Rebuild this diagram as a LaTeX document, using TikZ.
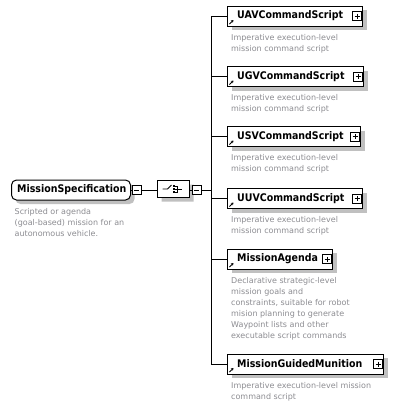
\documentclass[tikz,border=0pt]{standalone}
\usepackage{fontspec}
\setmainfont{DejaVu Sans}
\newfontfamily\namefont[FakeStretch=0.9]{DejaVu Sans}
\usetikzlibrary{positioning,shapes.misc,shadows,arrows.meta}
\definecolor{descgray}{RGB}{140,140,145}
\definecolor{shadowgray}{RGB}{192,192,192}

\begin{document}
\begin{tikzpicture}[x=1pt,y=-1pt,
  elem/.style={draw, fill=white, line width=1pt, anchor=west, minimum height=20pt, inner sep=0pt,
    general shadow={fill=shadowgray, shadow xshift=4pt, shadow yshift=-4pt}},
  ename/.style={font=\namefont\bfseries\fontsize{10.5}{12}\selectfont, inner sep=0pt, anchor=west},
  desc/.style={font=\fontsize{8}{11}\selectfont, text=descgray, align=left, inner sep=0pt, anchor=north west},
  pm/.style={draw, fill=white, line width=0.7pt, minimum size=9pt, inner sep=0pt},
  minusbox/.style={pm, path picture={\draw[line width=0.7pt]
    ([xshift=2pt]path picture bounding box.west) -- ([xshift=-2pt]path picture bounding box.east);}},
  plusbox/.style={pm, path picture={\draw[line width=0.7pt]
    ([xshift=2pt]path picture bounding box.west) -- ([xshift=-2pt]path picture bounding box.east)
    ([yshift=-2pt]path picture bounding box.north) -- ([yshift=2pt]path picture bounding box.south);}},
  refarrow/.style={line width=0.8pt, -{Stealth[length=2.5pt,width=3pt]}},
  link/.style={line width=1pt}]
\useasboundingbox (0,0) rectangle (402,408);

\coordinate (bustop) at (211,16);
\coordinate (busbottom) at (211,364);

\node [elem, rounded corners=5pt, minimum width=119pt] (root) at (11,190) {};
\node [ename, right=6pt of root.west] (rootname) {MissionSpecification};
\node [desc] (rootdesc) at ([shift={(3.5,8)}]root.south west) {Scripted or agenda\\(goal-based) mission for an\\autonomous vehicle.};
\node [minusbox] (rootminus) at (136.5,190) {};

\node [draw, fill=white, line width=1pt, chamfered rectangle, chamfered rectangle xsep=4pt, chamfered rectangle ysep=4pt,
  minimum width=32pt, minimum height=17pt, inner sep=0pt,
  general shadow={fill=shadowgray, shadow xshift=4pt, shadow yshift=-4pt}] (seq) at (173.5,189) {};
\draw [line width=0.8pt] ([shift={(-11,0)}]seq.center) -- ++(5,0) -- ++(4,-4);
\fill ([shift={(-1,-4)}]seq.center) rectangle ++(2,2);
\fill ([shift={(-1,-1)}]seq.center) rectangle ++(2,2);
\fill ([shift={(-1,2)}]seq.center) rectangle ++(2,2);
\draw [line width=0.8pt] ([shift={(1,-3)}]seq.center) -- ++(3,0) -- ++(0,6) -- ++(-3,0)
  ([shift={(1,0)}]seq.center) -- ++(7,0);
\node [minusbox] (seqminus) at (196.5,190) {};

\draw [link] (root) -- (rootminus);
\draw [link] (rootminus) -- (rootminus -| seq.west);
\draw [link] (seqminus -| seq.east) -- (seqminus);
\draw [link] (seqminus) -- (seqminus -| bustop);
\draw [link] (bustop) -- (busbottom);

\node [elem, minimum width=135pt] (uav) at (227,16) {};
\node [ename, right=10pt of uav.west] (uavname) {UAVCommandScript};
\node [plusbox, left=1pt of uav.east] (uavplus) {};
\draw [refarrow] ([shift={(2.5,-2.5)}]uav.south west) -- ++(4,-4);
\node [desc] (uavdesc) at ([shift={(4,7.5)}]uav.south west) {Imperative execution-level\\mission command script};

\node [elem, minimum width=136pt] (ugv) at (227,76.5) {};
\node [ename, right=10pt of ugv.west] (ugvname) {UGVCommandScript};
\node [plusbox, left=1pt of ugv.east] (ugvplus) {};
\draw [refarrow] ([shift={(2.5,-2.5)}]ugv.south west) -- ++(4,-4);
\node [desc] (ugvdesc) at ([shift={(4,7.5)}]ugv.south west) {Imperative execution-level\\mission command script};

\node [elem, minimum width=133pt] (usv) at (227,136.5) {};
\node [ename, right=10pt of usv.west] (usvname) {USVCommandScript};
\node [plusbox, left=1pt of usv.east] (usvplus) {};
\draw [refarrow] ([shift={(2.5,-2.5)}]usv.south west) -- ++(4,-4);
\node [desc] (usvdesc) at ([shift={(4,7.5)}]usv.south west) {Imperative execution-level\\mission command script};

\node [elem, minimum width=135pt] (uuv) at (227,198.5) {};
\node [ename, right=10pt of uuv.west] (uuvname) {UUVCommandScript};
\node [plusbox, left=1pt of uuv.east] (uuvplus) {};
\draw [refarrow] ([shift={(2.5,-2.5)}]uuv.south west) -- ++(4,-4);
\node [desc] (uuvdesc) at ([shift={(4,7.5)}]uuv.south west) {Imperative execution-level\\mission command script};

\node [elem, minimum width=105pt] (agenda) at (227,259) {};
\node [ename, right=10pt of agenda.west] (agendaname) {MissionAgenda};
\node [plusbox, left=1pt of agenda.east] (agendaplus) {};
\draw [refarrow] ([shift={(2.5,-2.5)}]agenda.south west) -- ++(4,-4);
\node [desc] (agendadesc) at ([shift={(4,7.5)}]agenda.south west) {Declarative strategic-level\\mission goals and\\constraints, suitable for robot\\mision planning to generate\\Waypoint lists and other\\executable script commands};

\node [elem, minimum width=156pt] (munition) at (227,364) {};
\node [ename, right=10pt of munition.west] (munitionname) {MissionGuidedMunition};
\node [plusbox, left=1pt of munition.east] (munitionplus) {};
\draw [refarrow] ([shift={(2.5,-2.5)}]munition.south west) -- ++(4,-4);
\node [desc] (munitiondesc) at ([shift={(4,7.5)}]munition.south west) {Imperative execution-level mission\\command script};

\draw [link] (uav.west -| bustop) -- (uav.west);
\draw [link] (ugv.west -| bustop) -- (ugv.west);
\draw [link] (usv.west -| bustop) -- (usv.west);
\draw [link] (uuv.west -| bustop) -- (uuv.west);
\draw [link] (agenda.west -| bustop) -- (agenda.west);
\draw [link] (munition.west -| bustop) -- (munition.west);
\end{tikzpicture}
\end{document}
